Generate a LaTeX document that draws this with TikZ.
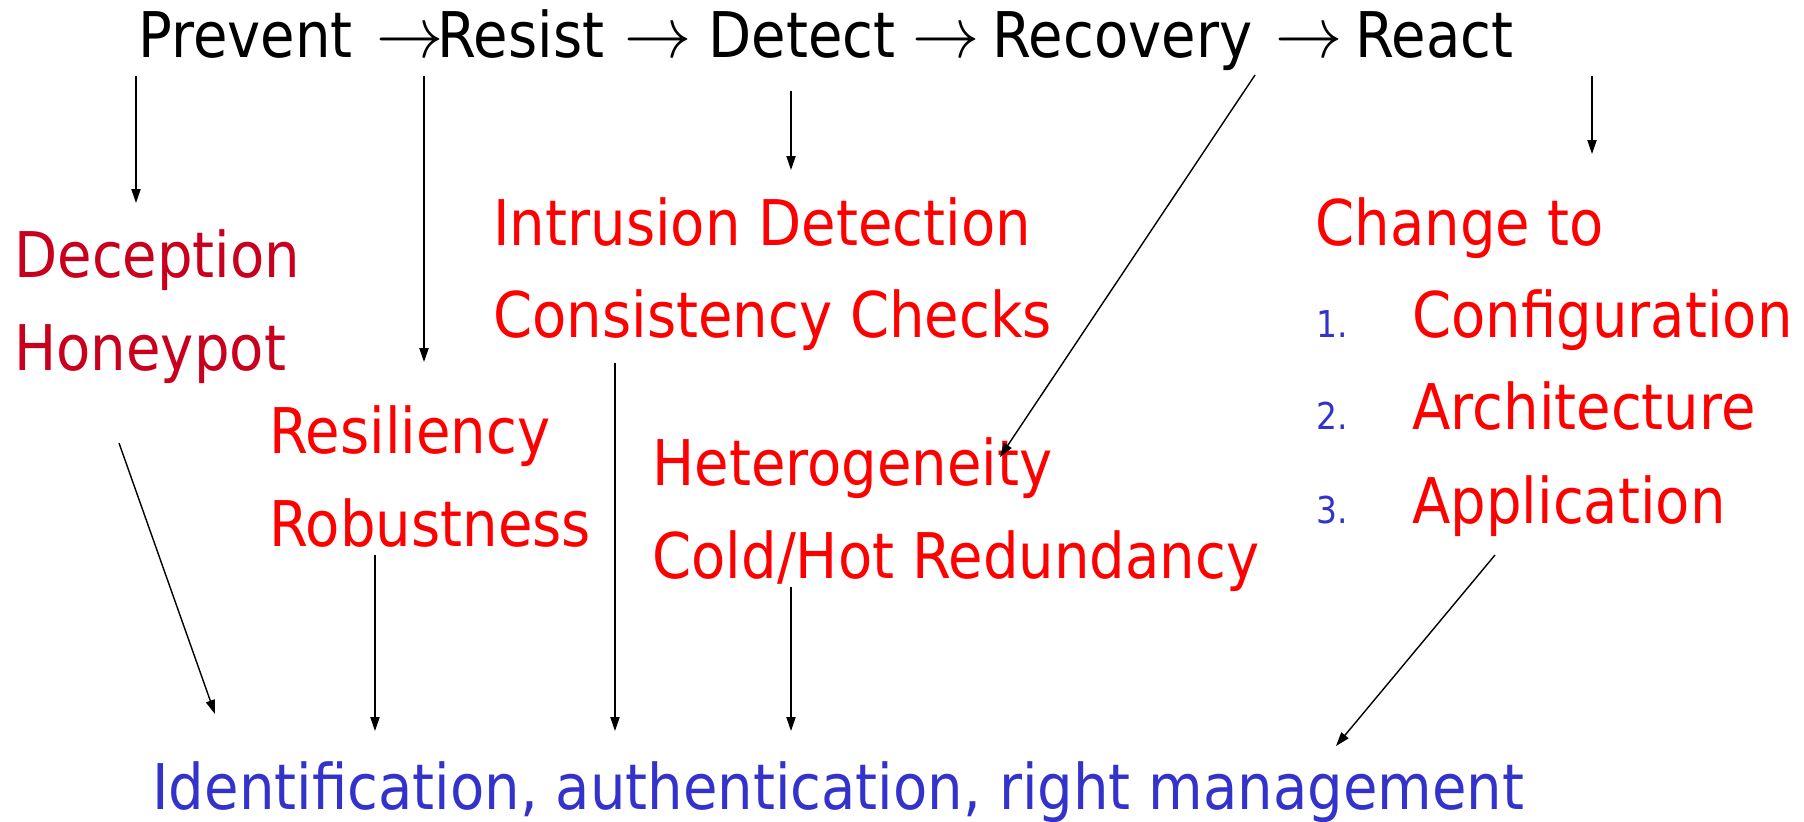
\documentclass[tikz,border=0pt]{standalone}
\usepackage{fontspec}
\setmainfont{DejaVu Sans}[FakeStretch=0.89]
\usetikzlibrary{arrows.meta}
\definecolor{darkred}{RGB}{200,0,30}
\definecolor{brightred}{RGB}{255,0,0}
\definecolor{listblue}{RGB}{51,51,204}
\newcommand{\wideArrow}{\scalebox{1.35}[1.45]{$\rightarrow$}}
\tikzset{
  txt/.style={anchor=base west, inner sep=0pt, font=\fontsize{31.5}{36}\selectfont},
  small/.style={anchor=base west, inner sep=0pt, font=\fontsize{18.5}{22}\selectfont, text=listblue},
  conn/.style={line width=0.7pt, -{Triangle[length=7pt,width=4.6pt]}}
}
\begin{document}
\begin{tikzpicture}[x=0.5pt,y=-0.5pt]
\useasboundingbox (0,0) rectangle (1804,821);
% top row
\node[txt] (prevent) at (138,57) {Prevent};
\node[txt] (ar1) at (376,57) {\wideArrow};
\node[txt] (resist) at (437,57) {Resist};
\node[txt] (ar2) at (624,57) {\wideArrow};
\node[txt] (detect) at (708,57) {Detect};
\node[txt] (ar3) at (912,57) {\wideArrow};
\node[txt] (recovery) at (992,57) {Recovery};
\node[txt] (ar4) at (1275,57) {\wideArrow};
\node[txt] (react) at (1355,57) {React};
% middle items
\node[txt, text=darkred] (deception) at (14,277) {Deception};
\node[txt, text=darkred] (honeypot) at (14,370) {Honeypot};
\node[txt, text=brightred] (intrusion) at (493,245) {Intrusion Detection};
\node[txt, text=brightred] (consistency) at (493,337) {Consistency Checks};
\node[txt, text=brightred] (resiliency) at (269,453) {Resiliency};
\node[txt, text=brightred] (robustness) at (269,546) {Robustness};
\node[txt, text=brightred] (hetero) at (652,485) {Heterogeneity};
\node[txt, text=brightred] (coldhot) at (652,578) {Cold/Hot Redundancy};
\node[txt, text=brightred] (change) at (1315,245) {Change to};
\node[small] (n1) at (1316,337) {1.};
\node[txt, text=brightred] (config) at (1412,337) {Configuration};
\node[small] (n2) at (1316,429) {2.};
\node[txt, text=brightred] (archi) at (1412,429) {Architecture};
\node[small] (n3) at (1316,523) {3.};
\node[txt, text=brightred] (appli) at (1412,523) {Application};
% bottom
\node[txt, text=listblue] (ident) at (152,809) {Identification, authentication, right management};
% connector points
\coordinate (a1s) at (136,76);  \coordinate (a1e) at (136,203);
\coordinate (a2s) at (424,76);  \coordinate (a2e) at (424,362);
\coordinate (a3s) at (791,91);  \coordinate (a3e) at (791,170);
\coordinate (a4s) at (1255,75); \coordinate (a4e) at (1000,457);
\coordinate (a5s) at (1592,76); \coordinate (a5e) at (1592,154);
\coordinate (b1s) at (119,443); \coordinate (b1e) at (215,714);
\coordinate (b2s) at (375,555); \coordinate (b2e) at (375,731);
\coordinate (b3s) at (615,363); \coordinate (b3e) at (615,731);
\coordinate (b4s) at (791,587); \coordinate (b4e) at (791,731);
\coordinate (b5s) at (1495,555); \coordinate (b5e) at (1336,746);
\foreach \s/\e in {a1s/a1e,a2s/a2e,a3s/a3e,a4s/a4e,a5s/a5e,b1s/b1e,b2s/b2e,b3s/b3e,b4s/b4e,b5s/b5e}
  \draw[conn] (\s) -- (\e);
\end{tikzpicture}
\end{document}
